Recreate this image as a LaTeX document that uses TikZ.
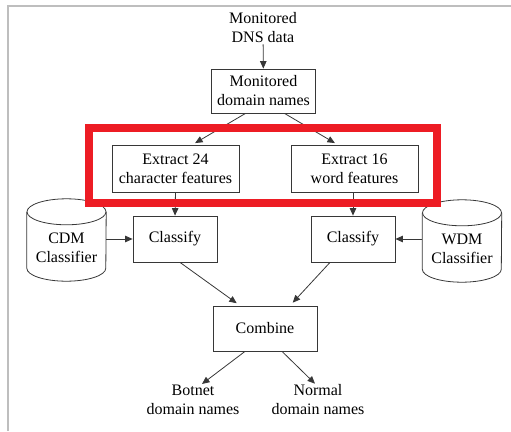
\documentclass[tikz,border=0pt]{standalone}
\usepackage{fontspec}
\setmainfont{Liberation Serif}
\usetikzlibrary{arrows.meta}
\definecolor{frame}{RGB}{190,190,190}
\definecolor{hilite}{RGB}{237,28,36}
\definecolor{ink}{RGB}{55,55,55}
% drawn outline of a vertical cylinder around the box node #1
\newcommand{\drumoutline}[1]{%
  \draw[ink, line width=0.8pt] ([yshift=-13pt]#1.north) ellipse [x radius=39.5pt, y radius=13pt];
  \draw[ink, line width=0.8pt] ([yshift=-13pt]#1.north west) -- ([yshift=13pt]#1.south west)
    arc[start angle=180, end angle=360, x radius=39.5pt, y radius=13pt]
    -- ([yshift=-13pt]#1.north east);}
\begin{document}
\begin{tikzpicture}[x=1pt,y=-1pt,
  every node/.style={font=\fontsize{16}{19}\selectfont, align=center, text=black},
  procbox/.style={draw=ink, line width=0.8pt, inner sep=0pt},
  label/.style={inner sep=1pt},
  storebox/.style={inner sep=0pt, minimum width=79pt, minimum height=82pt},
  flow/.style={draw=ink, line width=0.8pt, -{Triangle[length=7.5pt,width=6.5pt]}}
]
\useasboundingbox (0,0) rectangle (511,431);
\draw[frame, line width=1.2pt] (8,431) -- (8,6) -- (511,6);

% input data and first stage
\node[label] (src) at (263,28) {Monitored\\DNS data};
\node[procbox, minimum width=104pt, minimum height=44pt] (mon) at (263.5,91) {Monitored\\domain names};

% feature extraction
\node[procbox, minimum width=127pt, minimum height=47pt] (ext24) at (175.5,168.5) {Extract 24\\character features};
\node[procbox, minimum width=127pt, minimum height=47pt] (ext16) at (354.5,168.5) {Extract 16\\word features};

% classification
\node[procbox, minimum width=84pt, minimum height=46pt] (cls1) at (175,239) {Classify};
\node[procbox, minimum width=84pt, minimum height=46pt] (cls2) at (353,239) {Classify};
\node[storebox] (cdm) at (66.5,240) {};
\node[storebox] (wdm) at (462,241) {};
\drumoutline{cdm}
\drumoutline{wdm}
\node[label] (cdmtxt) at (66.5,248) {CDM\\Classifier};
\node[label] (wdmtxt) at (462,249) {WDM\\Classifier};

% combination and results
\node[procbox, minimum width=104pt, minimum height=45pt] (comb) at (265,328.5) {Combine};
\node[label] (bot) at (193,400) {Botnet\\domain names};
\node[label] (norm) at (318,400) {Normal\\domain names};

% connectors
\draw[flow] (src) -- (mon);
\draw[flow, shorten >=3pt] ([xshift=-18pt]mon.south) -- ([xshift=17pt]ext24.north);
\draw[flow, shorten >=3pt] ([xshift=21pt]mon.south) -- ([xshift=-17pt]ext16.north);
\draw[flow] (ext24.south) -- (cls1.north);
\draw[flow] (ext16.south -| cls2.north) -- (cls2.north);
\draw[flow] (cdm.east |- cls1.west) -- (cls1.west);
\draw[flow] (wdm.west |- cls2.east) -- (cls2.east);
\draw[flow, shorten >=4pt] ([xshift=5pt]cls1.south) -- ([xshift=-25pt]comb.north);
\draw[flow, shorten >=4pt] ([xshift=-23pt]cls2.south) -- ([xshift=25pt]comb.north);
\draw[flow] ([xshift=-20pt]comb.south) -- ([xshift=9pt]bot.north);
\draw[flow] ([xshift=17pt]comb.south) -- ([xshift=-3pt]norm.north);

% highlight around the feature extraction stage
\draw[hilite, line width=8pt] (89,128) rectangle (437,203);
\end{tikzpicture}
\end{document}
